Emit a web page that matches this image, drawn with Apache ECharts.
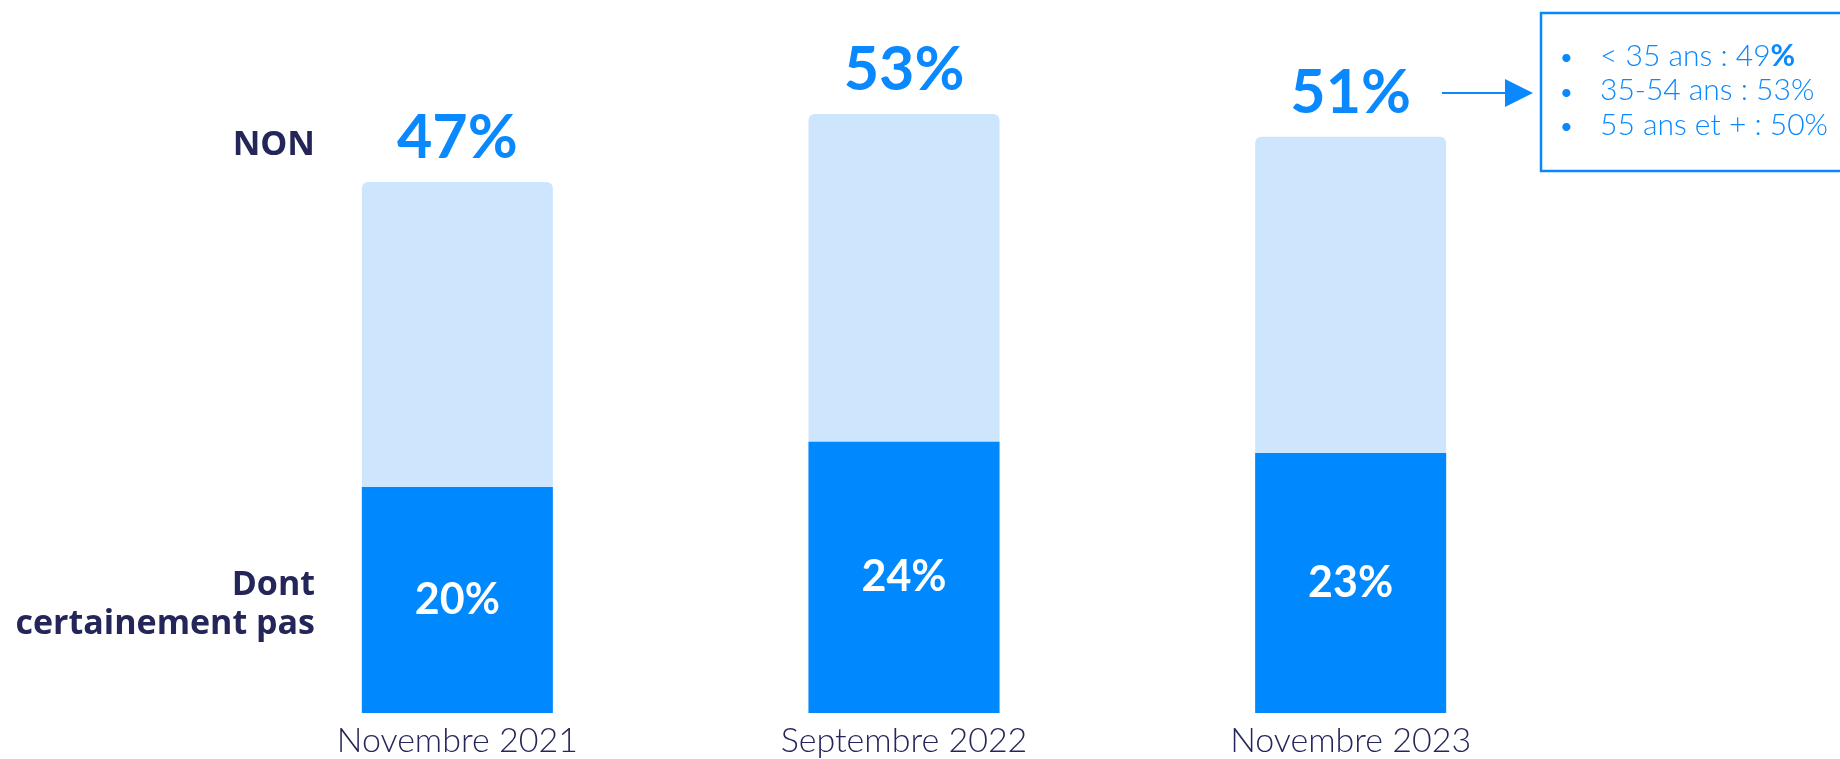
<!DOCTYPE html>
<html>
<head>
<meta charset="utf-8">
<script src="https://cdn.jsdelivr.net/npm/echarts@6/dist/echarts.min.js"></script>
<style>
  html, body { margin: 0; padding: 0; background: #fff; }
  #chart { width: 1840px; height: 759px; }
</style>
</head>
<body>
<div id="chart"></div>
<script>
// données
const categories = ["Novembre 2021", "Septembre 2022", "Novembre 2023"];
const totalNon = [47, 53, 51];
const certainementPas = [20, 24, 23];
const ageLines = [
  ["< 35 ans : 49", "%"],
  ["35-54 ans : 53", "%"],
  ["55 ans et + : 50", "%"]
];

const navy = "#24265a";
const blue = "#0a88fe";
const font = "Lato, 'DejaVu Sans', sans-serif";
const font2 = "'Open Sans', Lato, sans-serif";

const chart = echarts.init(document.getElementById("chart"));

// encadré + flèche à droite
const boxItems = [];
ageLines.forEach((l, i) => {
  const y = 61 + i * 34.5;
  boxItems.push({
    type: "text", left: 1560, top: y - 14,
    style: { text: "•", fill: blue, font: "22px " + font }
  });
  boxItems.push({
    type: "text", left: 1600, top: y - 20,
    style: {
      text: "{a|" + l[0] + "}{b|" + l[1] + "}",
      rich: {
        a: { fill: blue, fontSize: 30, fontWeight: 300, fontFamily: font },
        b: { fill: blue, fontSize: 30, fontWeight: i === 0 ? "bold" : 300, fontFamily: font }
      }
    }
  });
});

const option = {
  animation: false,
  grid: { left: 234, right: 266, top: 35, bottom: 46 },
  xAxis: {
    type: "category",
    data: categories,
    axisLine: { show: false },
    axisTick: { show: false },
    axisLabel: { color: navy, fontSize: 34, fontWeight: 300, fontFamily: font, margin: 11 }
  },
  yAxis: { type: "value", min: 0, max: 60, show: false, splitLine: { show: false } },
  series: [
    {
      name: "NON",
      type: "bar",
      data: totalNon,
      barWidth: 191,
      barGap: "-100%",
      itemStyle: { color: "#cde6fe", borderRadius: [6, 6, 0, 0] },
      label: {
        show: true, position: "top", distance: 13,
        formatter: "{c}%", color: blue, fontSize: 61, fontWeight: "bold", fontFamily: font
      }
    },
    {
      name: "Dont certainement pas",
      type: "bar",
      data: certainementPas,
      barWidth: 191,
      itemStyle: { color: "#0088ff" },
      label: {
        show: true, position: "inside",
        formatter: "{c}%", color: "#fff", fontSize: 43, fontWeight: "bold", fontFamily: font
      }
    }
  ],
  graphic: [
    {
      type: "text", right: 1840 - 315, top: 128,
      style: { text: "NON", fill: navy, font: "bold 34px " + font2, textAlign: "right" }
    },
    {
      type: "text", right: 1840 - 315, top: 566,
      style: { text: "Dont\ncertainement pas", fill: navy, font: "bold 34px " + font2, textAlign: "right", lineHeight: 39 }
    },
    {
      type: "line",
      shape: { x1: 1442, y1: 93, x2: 1508, y2: 93 },
      style: { stroke: blue, lineWidth: 2 }
    },
    {
      type: "polygon",
      shape: { points: [[1505, 79], [1533, 93], [1505, 107]] },
      style: { fill: blue }
    },
    {
      type: "rect",
      shape: { x: 1541, y: 13, width: 320, height: 158 },
      style: { fill: "none", stroke: blue, lineWidth: 2.5 }
    }
  ].concat(boxItems)
};

chart.setOption(option);
</script>
</body>
</html>
